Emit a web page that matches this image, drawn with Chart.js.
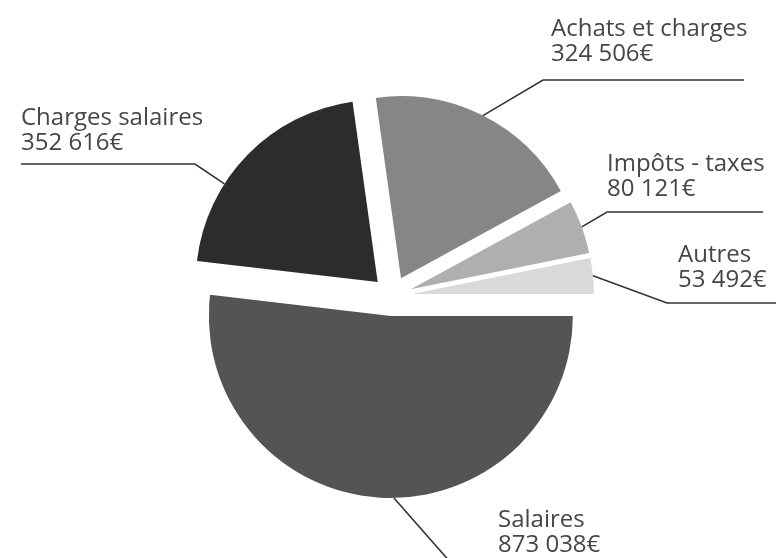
<!DOCTYPE html>
<html><head><meta charset="utf-8">
<script src="https://cdn.jsdelivr.net/npm/chart.js@4.4.0/dist/chart.umd.min.js"></script>
<style>html,body{margin:0;padding:0;background:#fff;overflow:hidden}</style>
</head><body>
<canvas id="c" width="776" height="558" style="display:block;width:776px;height:558px"></canvas>
<script>
// ---- data ----
const categories = ['Salaires', 'Charges salaires', 'Achats et charges', 'Impôts - taxes', 'Autres'];
const values = [873038, 352616, 324506, 80121, 53492];
const colors = ['#545454', '#2e2b2b', '#868686', '#afafaf', '#d9d9d9'];

function fmtEuro(v) {
  return String(v).replace(/\B(?=(\d{3})+(?!\d))/g, ' ') + '€';
}

// ---- layout of labels (positions only) ----
const EXPLODE = 20;
const labelLayout = [
  { angleShift: -4.3, path: [[459, 572]], textX: 498, textY: 527 },
  { angleShift: -11.7, path: [[195, 164], [21, 164]], textX: 21, textY: 125 },
  { angleShift: 0, path: [[543, 80], [744, 80]], textX: 551, textY: 36 },
  { angleShift: 0, path: [[607, 212], [763, 212]], textX: 607, textY: 171 },
  { angleShift: 0, path: [[667, 303], [780, 303]], textX: 678, textY: 262 }
];

const explodePlugin = {
  id: 'explode',
  afterDatasetUpdate(chart, args) {
    args.meta.data.forEach(arc => {
      const mid = (arc.startAngle + arc.endAngle) / 2;
      arc.x += Math.cos(mid) * EXPLODE;
      arc.y += Math.sin(mid) * EXPLODE;
    });
  }
};

const labelPlugin = {
  id: 'leaderLabels',
  afterDraw(chart) {
    const ctx = chart.ctx;
    const meta = chart.getDatasetMeta(0);
    ctx.save();
    meta.data.forEach((arc, i) => {
      const L = labelLayout[i];
      const a = (arc.startAngle + arc.endAngle) / 2 + L.angleShift * Math.PI / 180;
      const sx = arc.x + Math.cos(a) * arc.outerRadius;
      const sy = arc.y + Math.sin(a) * arc.outerRadius;
      ctx.beginPath();
      ctx.moveTo(sx, sy);
      L.path.forEach(p => ctx.lineTo(p[0], p[1]));
      ctx.strokeStyle = '#333333';
      ctx.lineWidth = 1.6;
      ctx.stroke();
      ctx.fillStyle = '#464646';
      ctx.font = '400 24px "Open Sans"';
      ctx.textAlign = 'left';
      ctx.textBaseline = 'alphabetic';
      ctx.fillText(categories[i], L.textX, L.textY);
      ctx.fillText(fmtEuro(values[i]), L.textX, L.textY + 25);
    });
    ctx.restore();
  }
};

new Chart(document.getElementById('c'), {
  type: 'pie',
  data: {
    labels: categories,
    datasets: [{
      data: values,
      backgroundColor: colors,
      borderWidth: 0,
      offset: 0
    }]
  },
  options: {
    responsive: false,
    animation: false,
    events: [],
    rotation: 90,
    radius: 182,
    layout: { padding: { left: 8, top: 34, right: 0, bottom: 0 } },
    plugins: { legend: { display: false }, tooltip: { enabled: false } }
  },
  plugins: [explodePlugin, labelPlugin]
});
</script>
</body></html>
